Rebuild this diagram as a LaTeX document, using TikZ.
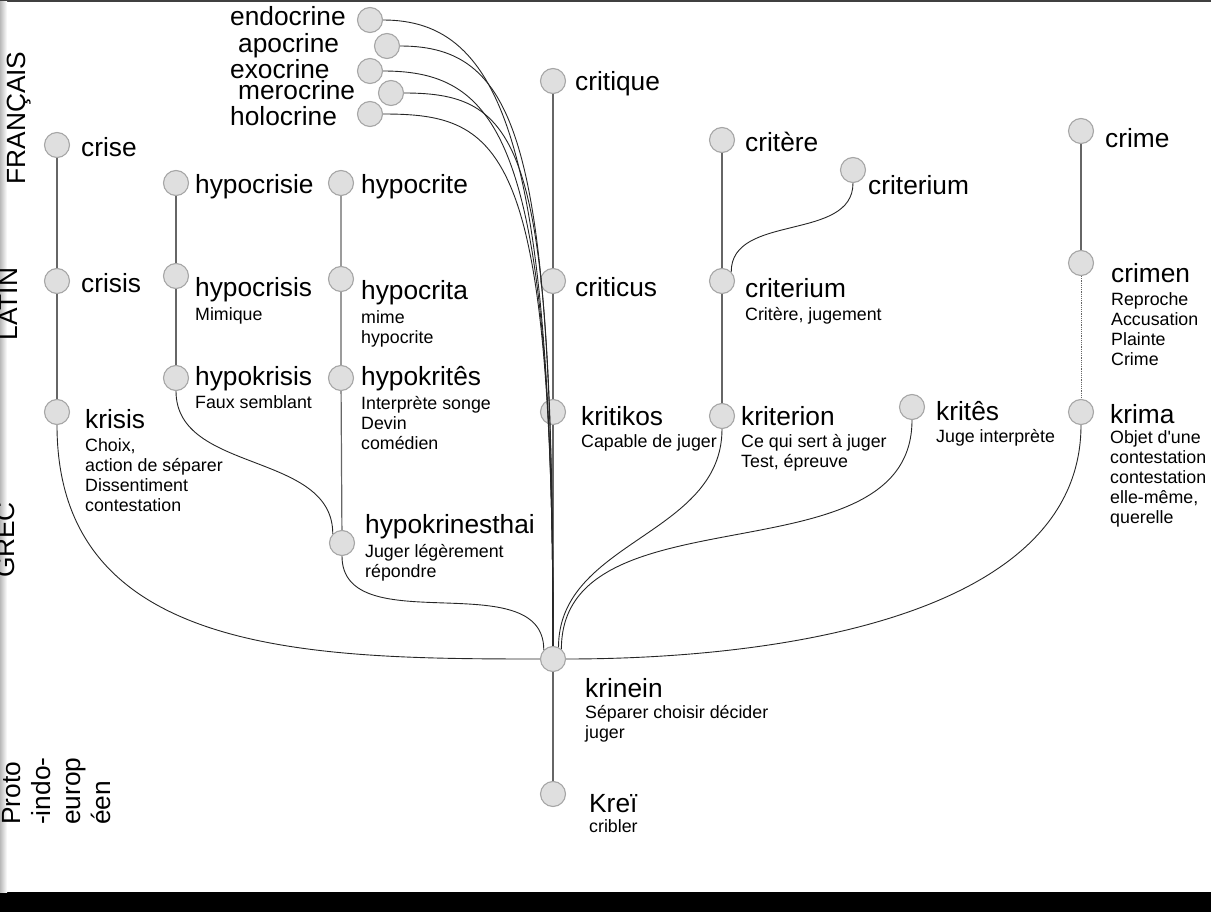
\documentclass[tikz,border=0pt]{standalone}
\usepackage{fontspec}
\setmainfont{Liberation Sans}[Ligatures=TeXOff]
\begin{document}
\begin{tikzpicture}[x=1pt,y=-1pt]
\tikzstyle{dot}=[circle, draw=gray!70, fill=gray!25, line width=1.1pt, minimum size=25pt, inner sep=0pt]
\tikzstyle{word}=[anchor=base west, inner sep=0pt, font=\fontsize{26.3}{30}\selectfont]
% multi-line: base is the last line
\tikzstyle{gloss}=[anchor=base west, inner sep=0pt, align=left, font=\fontsize{17.8}{20}\selectfont]
\tikzstyle{era}=[anchor=base, inner sep=0pt, rotate=90, font=\fontsize{26.3}{30}\selectfont]
\tikzstyle{stem}=[draw=black!60, line width=1.2pt]
\tikzstyle{branch}=[draw=black!85, line width=0.9pt]
\useasboundingbox (0,0) rectangle (1211,912);
\fill[black] (0,892) rectangle (1211,912);
\fill[black!75] (0,0) rectangle (1211,2);
\shade[left color=gray!55, right color=white] (0,2) rectangle (7,892);
% periods
\node[era] (fr) at (25,118) {FRANÇAIS};
\node[era] (la) at (17,304) {LATIN};
\node[era] (gr) at (15,540) {GREC};
\node[era, anchor=base west, align=left] (pie) at (110,825) {Proto\\-indo-\\europ\\éen};
% words
\foreach \n/\x/\y in {endocrine/370/20, apocrine/387/46, exocrine/370/71, merocrine/391/93, holocrine/370/114,
  crise/57/145, crisis/57/281, krisis/57/412,
  hypocrisie/176/183, hypocrisis/176/276, hypokrisis/176/378,
  hypocrite/341/183, hypocrita/341/279, hypokrites/341/378, hypokrinesthai/342/543,
  critique/553/81, criticus/553/281, kritikos/553/412,
  critere/722/140, criteriumfr/853/170, criteriumla/722/281, kriterion/722/416, krites/912/407,
  crime/1081/131, crimen/1081/263, krima/1081/412,
  krinein/553/659, krei/553/794}
  \node[dot] (\n) at (\x,\y) {};
\foreach \n/\x/\y/\t in {endocrine/230/26/endocrine, apocrine/238/53/apocrine, exocrine/230/79/exocrine,
  merocrine/238/100/merocrine, holocrine/230/126/holocrine,
  crise/81/157/crise, crisis/81/293/crisis, krisis/85/428/krisis,
  hypocrisie/195/194/hypocrisie, hypocrisis/195/297/hypocrisis, hypokrisis/195/385/hypokrisis,
  hypocrite/361/194/hypocrite, hypocrita/361/299/hypocrita, hypokrites/361/385/hypokritês,
  hypokrinesthai/365/533/hypokrinesthai,
  critique/575/91/critique, criticus/575/297/criticus, kritikos/581/425/kritikos,
  critere/745/152/critère, criteriumfr/868/195/criterium, criteriumla/745/298/criterium,
  kriterion/741/425/kriterion, krites/936/420/kritês,
  crime/1105/148/crime, crimen/1111/283/crimen, krima/1110/423/krima,
  krinein/585/697/krinein, krei/589/812/Kreï}
  \node[word] (w-\n) at (\x,\y) {\t};
% meanings
\node[gloss] (g-krisis) at (85,511) {Choix,\\action de séparer\\Dissentiment\\contestation};
\node[gloss] (g-hypocrisis) at (195,320) {Mimique};
\node[gloss] (g-hypokrisis) at (195,408) {Faux semblant};
\node[gloss] (g-hypocrita) at (361,343) {mime\\hypocrite};
\node[gloss] (g-hypokrites) at (361,449) {Interprète songe\\Devin\\comédien};
\node[gloss] (g-hypokrinesthai) at (365,577) {Juger légèrement\\répondre};
\node[gloss] (g-kritikos) at (581,447) {Capable de juger};
\node[gloss] (g-criteriumla) at (745,320) {Critère, jugement};
\node[gloss] (g-kriterion) at (741,467) {Ce qui sert à juger\\Test, épreuve};
\node[gloss] (g-krites) at (936,442) {Juge interprète};
\node[gloss] (g-crimen) at (1111,365) {Reproche\\Accusation\\Plainte\\Crime};
\node[gloss] (g-krima) at (1110,523) {Objet d'une\\contestation\\contestation\\elle-même,\\querelle};
\node[gloss] (g-krinein) at (585,738) {Séparer choisir décider\\juger};
\node[gloss] (g-krei) at (589,832) {cribler};
% straight descent
\draw[stem] (crise) -- (crisis) -- (krisis);
\draw[stem] (hypocrisie) -- (hypocrisis) -- (hypokrisis);
\draw[stem] (hypocrite) -- (hypocrita) -- (hypokrites) -- (hypokrinesthai);
\draw[stem] (critique) -- (criticus) -- (kritikos) -- (krinein) -- (krei);
\draw[stem] (critere) -- (criteriumla) -- (kriterion);
\draw[stem] (crime) -- (crimen);
\draw[stem, densely dotted, line width=0.9pt] (crimen) -- (krima);
% curved descent
\foreach \n in {endocrine,apocrine,exocrine,merocrine,holocrine}
  \draw[branch] (\n.east) .. controls +(120,0) and +(0,-500) .. (krinein.north);
\draw[branch] (krisis) to[out=-90, in=180, looseness=1.1] (krinein);
\draw[branch] (hypokrisis) to[out=-90, in=90] (hypokrinesthai.north west);
\draw[branch] (hypokrinesthai) to[out=-90, in=90] (krinein.north west);
\draw[branch] (criteriumfr) to[out=-90, in=90] (criteriumla.north east);
\draw[branch] (kriterion) to[out=-90, in=90] (krinein.65);
\draw[branch] (krites) to[out=-90, in=90] (krinein.50);
\draw[branch] (krima) to[out=-90, in=0, out looseness=0.85] (krinein);
\end{tikzpicture}
\end{document}
